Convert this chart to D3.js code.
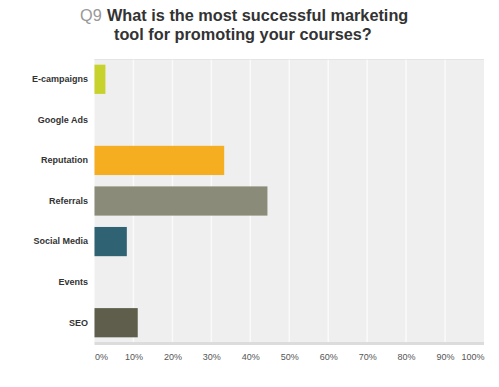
<!DOCTYPE html>
<html>
<head>
<meta charset="utf-8">
<script src="https://cdn.jsdelivr.net/npm/d3@7"></script>
<style>
  body { margin: 0; background: #fff; }
  svg { display: block; font-family: "Liberation Sans", Arial, sans-serif; }
</style>
</head>
<body>
<script>
// survey answers and share of respondents (%)
const categories = ["E-campaigns", "Google Ads", "Reputation", "Referrals", "Social Media", "Events", "SEO"];
const values = [2.8, 0, 33.3, 44.4, 8.3, 0, 11.1];
const barColors = ["#c8d22c", "#c8d22c", "#f5ae1f", "#8a8b79", "#2f6273", "#2f6273", "#5f5e4d"];
const tickValues = [0, 10, 20, 30, 40, 50, 60, 70, 80, 90, 100];

const width = 499;
const height = 387;
const plotLeft = 94.5, plotRight = 484, plotTop = 59, plotBottom = 343;

const svg = d3.select("body").append("svg")
  .attr("width", width)
  .attr("height", height);

// title
svg.append("text")
  .attr("x", 80)
  .attr("y", 21)
  .style("font-size", "16.3px")
  .style("fill", "#999")
  .text("Q9");
svg.append("text")
  .attr("x", 107)
  .attr("y", 21)
  .style("font-size", "16.3px")
  .style("font-weight", "bold")
  .style("fill", "#333")
  .text("What is the most successful marketing");
svg.append("text")
  .attr("x", 114)
  .attr("y", 39.5)
  .style("font-size", "16.3px")
  .style("font-weight", "bold")
  .style("fill", "#333")
  .text("tool for promoting your courses?");

// scales
const x = d3.scaleLinear().domain([0, 100]).range([plotLeft, plotRight]);
const y = d3.scaleBand().domain(categories).range([plotTop, plotBottom]).paddingInner(0.28).paddingOuter(0.14);

// plot background
svg.append("rect")
  .attr("x", plotLeft)
  .attr("y", plotTop)
  .attr("width", plotRight - plotLeft)
  .attr("height", plotBottom - plotTop)
  .style("fill", "#efefef");

// gridlines
svg.append("g")
  .selectAll("line")
  .data(tickValues.slice(1, -1))
  .enter()
  .append("line")
  .attr("x1", (d) => x(d))
  .attr("x2", (d) => x(d))
  .attr("y1", plotTop)
  .attr("y2", plotBottom)
  .style("stroke", "#fafafa")
  .style("stroke-width", 1.5);

// top dotted line and bottom band
svg.append("line")
  .attr("x1", plotLeft).attr("x2", plotRight)
  .attr("y1", plotTop + 0.5).attr("y2", plotTop + 0.5)
  .style("stroke", "#d8d8d8")
  .style("stroke-dasharray", "1,1");
svg.append("rect")
  .attr("x", plotLeft)
  .attr("y", plotBottom - 1)
  .attr("width", plotRight - plotLeft)
  .attr("height", 3)
  .style("fill", "#dcdcdc");

// bars
svg.append("g")
  .selectAll("rect")
  .data(categories)
  .enter()
  .append("rect")
  .attr("x", x(0))
  .attr("y", (d) => y(d))
  .attr("width", (d, i) => x(values[i]) - x(0))
  .attr("height", y.bandwidth())
  .style("fill", (d, i) => barColors[i]);

// category labels
const yAxis = d3.axisLeft(y).tickSize(0).tickPadding(6.5);
const gy = svg.append("g")
  .attr("transform", "translate(" + plotLeft + ",0)")
  .call(yAxis);
gy.select(".domain").remove();
gy.selectAll("text")
  .style("font-family", "'Liberation Sans', Arial, sans-serif")
  .style("font-size", "9px")
  .style("font-weight", "bold")
  .style("fill", "#333");

// x axis labels
const xAxis = d3.axisBottom(x).tickValues(tickValues).tickFormat((d) => d + "%").tickSize(0).tickPadding(11);
const gx = svg.append("g")
  .attr("transform", "translate(0," + plotBottom + ")")
  .call(xAxis);
gx.select(".domain").remove();
gx.selectAll("text")
  .style("font-family", "'Liberation Sans', Arial, sans-serif")
  .style("font-size", "9px")
  .style("fill", "#555")
  .style("text-anchor", (d) => d === 0 ? "start" : d === 100 ? "end" : "middle");
</script>
</body>
</html>
